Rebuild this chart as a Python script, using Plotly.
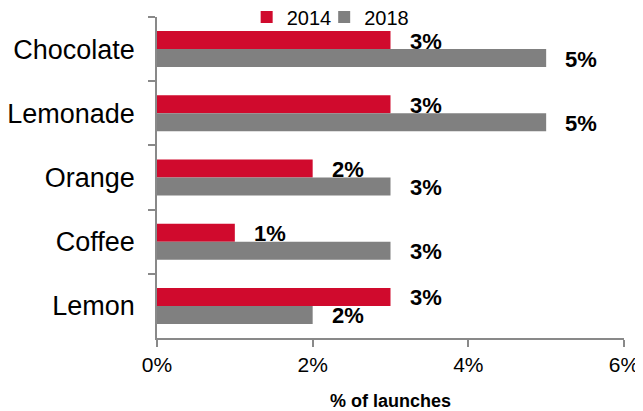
import plotly.graph_objects as go

categories = ["Chocolate", "Lemonade", "Orange", "Coffee", "Lemon"]
values_2014 = [3, 3, 2, 1, 3]
values_2018 = [5, 5, 3, 3, 2]
series_names = ["2014", "2018"]
x_ticks = [0, 2, 4, 6]
x_tick_labels = ["0%", "2%", "4%", "6%"]

RED = "#D00A2D"
GRAY = "#808080"
FONT = "Liberation Sans, Arial, sans-serif"

fig = go.Figure()
fig.add_trace(go.Bar(y=categories, x=values_2014, name=series_names[0], orientation="h",
                     marker=dict(color=RED, line=dict(width=0)), legend="legend"))
fig.add_trace(go.Bar(y=categories, x=values_2018, name=series_names[1], orientation="h",
                     marker=dict(color=GRAY, line=dict(width=0)), legend="legend2"))

annotations = []
for vals, ys in ((values_2014, 9), (values_2018, -9)):
    for c, v in zip(categories, vals):
        annotations.append(dict(x=v, y=c, xref="x", yref="y", text=f"{v}%",
                                showarrow=False, xanchor="left", yanchor="middle",
                                xshift=17, yshift=ys - 1,
                                font=dict(family=FONT, size=22, color="#000000", weight="bold")))

leg_common = dict(orientation="h", xanchor="left", y=1.0, yanchor="middle",
                  bgcolor="rgba(0,0,0,0)", font=dict(size=20, family=FONT),
                  itemwidth=30, borderwidth=0)

fig.update_layout(
    width=635, height=403,
    margin=dict(l=149, r=19, t=9, b=73, autoexpand=False),
    paper_bgcolor="white", plot_bgcolor="white",
    barmode="group", bargap=0.44, bargroupgap=0,
    font=dict(family=FONT, color="#000000"),
    showlegend=True,
    legend=dict(x=0.192, **leg_common),
    legend2=dict(x=0.358, **leg_common),
    annotations=annotations,
)
fig.update_xaxes(range=[0, 6], tickvals=x_ticks, ticktext=x_tick_labels,
                 showgrid=False, zeroline=False, showline=True, linecolor="#898989", linewidth=1.5,
                 ticks="outside", ticklen=7, tickcolor="#898989", tickwidth=1.5,
                 tickfont=dict(size=21, family=FONT),
                 title=dict(text="% of launches", font=dict(size=18, family=FONT, weight="bold"), standoff=20))
fig.update_yaxes(autorange="reversed", showgrid=False, zeroline=False, showline=True,
                 linecolor="#898989", linewidth=1.5, ticks="outside", ticklen=7,
                 tickcolor="#898989", tickwidth=1.5, tickson="boundaries",
                 tickfont=dict(size=27, family=FONT), ticklabelstandoff=15)

fig.write_html("out.html")
